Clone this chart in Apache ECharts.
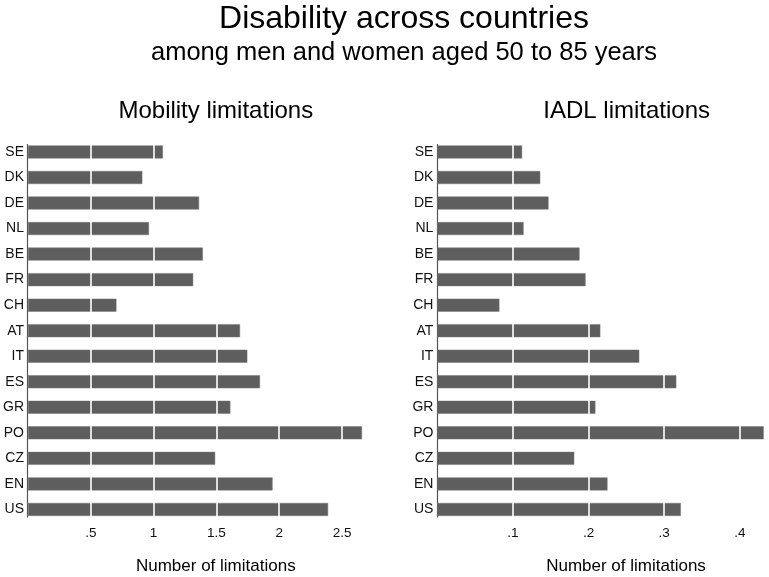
<!DOCTYPE html>
<html>
<head>
<meta charset="utf-8">
<script src="https://cdn.jsdelivr.net/npm/echarts@6/dist/echarts.min.js"></script>
<style>html,body{margin:0;padding:0;background:#fff;}#c{width:769px;height:577px;}</style>
</head>
<body>
<div id="c"></div>
<script>
const countries = ['SE','DK','DE','NL','BE','FR','CH','AT','IT','ES','GR','PO','CZ','EN','US'];
const mobility = [1.074,0.910,1.362,0.963,1.392,1.315,0.704,1.688,1.746,1.847,1.611,2.659,1.490,1.947,2.389];
const iadl = [0.112,0.136,0.147,0.114,0.188,0.196,0.082,0.2155,0.267,0.316,0.209,0.4316,0.181,0.225,0.322];
const mainTitle = 'Disability across countries';
const subTitle = 'among men and women aged 50 to 85 years';
const panelTitles = ['Mobility limitations','IADL limitations'];
const axisTitle = 'Number of limitations';

const FONT = 'Liberation Sans, Arial, Helvetica, sans-serif';
const barColor = '#5e5e5e';

function tickFmt(v){
  if (v === 0) return '';
  let s = String(+v.toFixed(4));
  return s.replace(/^0\./, '.');
}

function xAxisFor(idx, interval){
  return {
    type: 'value', gridIndex: idx, min: 0, max: 'dataMax', interval: interval,
    z: 10,
    axisLine: {show: false}, axisTick: {show: false},
    axisLabel: {formatter: tickFmt, fontFamily: FONT, fontSize: 13.5, color: '#111', margin: 4,
      showMinLabel: false, showMaxLabel: false},
    splitLine: {show: true, showMinLine: false, showMaxLine: false, lineStyle: {color: '#ffffff', width: 1.6}}
  };
}
function yAxisFor(idx){
  return {
    type: 'category', gridIndex: idx, data: countries, inverse: true,
    axisLine: {show: false},
    axisTick: {show: false},
    axisLabel: {fontFamily: FONT, fontSize: 14, color: '#111', margin: 4},
    splitLine: {show: false}
  };
}
// grids holding only the (shorter) vertical axis line
function lineXAxis(idx){
  return {type: 'value', gridIndex: idx, min: 0, max: 1, show: false};
}
function lineYAxis(idx){
  return {type: 'value', gridIndex: idx, min: 0, max: 1,
    axisLine: {show: true, onZero: false, lineStyle: {color: '#555', width: 1.2}},
    axisTick: {show: false}, axisLabel: {show: false}, splitLine: {show: false}};
}

const chart = echarts.init(document.getElementById('c'), null, {renderer: 'canvas'});
chart.setOption({
  backgroundColor: '#ffffff',
  animation: false,
  grid: [
    {left: 27, top: 139.2, width: 335, height: 383},
    {left: 437.4, top: 139.2, width: 326.3, height: 383},
    {left: 27, top: 144.5, width: 10, height: 372.5},
    {left: 437.4, top: 144.5, width: 10, height: 372.5}
  ],
  xAxis: [xAxisFor(0, 0.5), xAxisFor(1, 0.1), lineXAxis(2), lineXAxis(3)],
  yAxis: [yAxisFor(0), yAxisFor(1), lineYAxis(2), lineYAxis(3)],
  series: [
    {type: 'bar', xAxisIndex: 0, yAxisIndex: 0, data: mobility, barWidth: 13,
     itemStyle: {color: barColor, borderColor: '#777', borderWidth: 0.5}, z: 2},
    {type: 'bar', xAxisIndex: 1, yAxisIndex: 1, data: iadl, barWidth: 13,
     itemStyle: {color: barColor, borderColor: '#777', borderWidth: 0.5}, z: 2}
  ],
  graphic: [
    {type: 'text', x: 404, y: 19, style: {text: mainTitle, font: '32px ' + FONT, fill: '#000', textAlign: 'center', textVerticalAlign: 'middle'}},
    {type: 'text', x: 404, y: 53, style: {text: subTitle, font: '25.5px ' + FONT, fill: '#000', textAlign: 'center', textVerticalAlign: 'middle'}},
    {type: 'text', x: 215.8, y: 111, style: {text: panelTitles[0], font: '24px ' + FONT, fill: '#000', textAlign: 'center', textVerticalAlign: 'middle'}},
    {type: 'text', x: 626.7, y: 111, style: {text: panelTitles[1], font: '24px ' + FONT, fill: '#000', textAlign: 'center', textVerticalAlign: 'middle'}},
    {type: 'text', x: 215.8, y: 566, style: {text: axisTitle, font: '17px ' + FONT, fill: '#000', textAlign: 'center', textVerticalAlign: 'middle'}},
    {type: 'text', x: 626, y: 566, style: {text: axisTitle, font: '17px ' + FONT, fill: '#000', textAlign: 'center', textVerticalAlign: 'middle'}}
  ]
});
</script>
</body>
</html>
